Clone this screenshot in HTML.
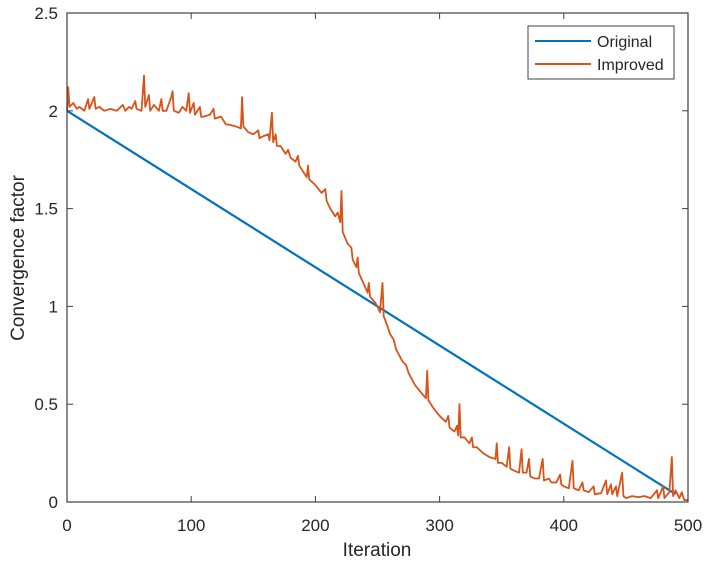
<!DOCTYPE html>
<html><head><meta charset="utf-8"><style>
html,body{margin:0;padding:0;background:#fff;}
svg{display:block;font-family:"Liberation Sans",Arial,sans-serif;}
</style></head><body>
<svg id="chart" width="710" height="563" viewBox="0 0 710 563">
<rect x="0" y="0" width="710" height="563" fill="#fff"/>
<g id="plot"></g>
</svg>
<script>
const xTicks=[0,100,200,300,400,500];
const yTicks=[0,0.5,1,1.5,2,2.5];
const yTickLabels=["0","0.5","1","1.5","2","2.5"];
const origIter=[0,490];
const origVal=[2.0,0.04];
const impIter=[0,1,2,5,8,10,14,17,18,22,23,26,30,35,40,45,47,50,52,55,56,60,62,63,66,67,70,74,76,77,80,84,85,86,90,93,96,98,99,102,103,107,108,110,115,118,119,124,128,130,136,140,141,142,146,150,154,155,158,162,163,165,166,168,169,172,176,178,180,184,186,187,190,193,194,195,200,205,208,209,212,216,218,220,221,222,226,229,230,233,234,235,240,242,243,244,248,250,252,254,255,258,260,263,265,270,273,275,280,285,289,290,291,295,300,305,307,308,312,314,315,316,317,320,324,326,327,330,335,340,345,346,347,350,354,356,357,360,364,366,367,370,372,373,377,380,383,384,388,390,394,397,398,400,404,407,408,412,415,416,420,424,425,430,434,435,438,439,442,443,447,448,450,455,460,465,470,475,476,480,481,485,487,488,490,493,495,497,500];
const impVal=[2.0,2.12,2.02,2.04,2.01,2.02,2.0,2.06,2.01,2.07,2.01,2.02,2.0,2.01,2.0,2.03,2.0,2.02,2.01,2.05,2.01,2.0,2.18,2.02,2.08,2.0,2.03,2.0,2.06,2.0,2.0,2.07,2.1,2.0,1.99,2.02,2.0,2.09,1.99,2.04,1.98,2.02,1.97,1.97,1.98,2.01,1.96,1.97,1.93,1.93,1.92,1.91,2.07,1.92,1.89,1.88,1.9,1.86,1.87,1.88,1.85,1.99,1.84,1.88,1.82,1.82,1.78,1.8,1.76,1.74,1.77,1.72,1.69,1.66,1.72,1.65,1.62,1.58,1.6,1.54,1.5,1.46,1.48,1.43,1.59,1.38,1.32,1.3,1.24,1.2,1.25,1.17,1.1,1.07,1.12,1.05,1.02,1.0,0.97,1.12,0.95,0.9,0.86,0.83,0.78,0.72,0.7,0.66,0.6,0.56,0.53,0.67,0.52,0.48,0.44,0.41,0.44,0.38,0.36,0.39,0.34,0.5,0.33,0.33,0.3,0.33,0.28,0.28,0.25,0.23,0.22,0.3,0.2,0.2,0.18,0.28,0.17,0.16,0.15,0.27,0.15,0.15,0.22,0.13,0.12,0.12,0.22,0.11,0.12,0.1,0.1,0.14,0.09,0.08,0.07,0.21,0.07,0.06,0.1,0.06,0.05,0.08,0.04,0.045,0.11,0.04,0.09,0.04,0.08,0.03,0.15,0.03,0.02,0.03,0.025,0.03,0.02,0.06,0.02,0.08,0.02,0.05,0.23,0.03,0.06,0.02,0.05,0.01,0.01];

const L=67,R=688,T=13,B=502;
const NS="http://www.w3.org/2000/svg";
const xS=v=>L+(v-0)/(500-0)*(R-L);
const yS=v=>B-(v-0)/(2.5-0)*(B-T);
const g=document.getElementById('plot');
function mk(tag,attrs){const e=document.createElementNS(NS,tag);for(const k in attrs)e.setAttribute(k,attrs[k]);return e;}

function pathFrom(xs,ys){return xs.map((x,i)=>(i?'L':'M')+xS(x).toFixed(2)+' '+yS(ys[i]).toFixed(2)).join(' ');}
const orig=mk('path',{d:pathFrom(origIter,origVal),fill:'none',stroke:'#0072bd','stroke-width':2.2});


g.appendChild(orig);
const imp=mk('path',{d:pathFrom(impIter,impVal),fill:'none',stroke:'#d95319','stroke-width':1.8,'stroke-linejoin':'round'});


g.appendChild(imp);

const box=mk('rect',{x:L,y:T,width:R-L,height:B-T,fill:'none',stroke:'#404040','stroke-width':1.2});


g.appendChild(box);

xTicks.forEach(t=>{
  const x=xS(t);
  const tb=mk('line',{x1:x,x2:x,y1:B,y2:B-6,stroke:'#404040','stroke-width':1});
  
  
  g.appendChild(tb);
  const tt=mk('line',{x1:x,x2:x,y1:T,y2:T+6,stroke:'#404040','stroke-width':1});
  
  
  g.appendChild(tt);
  const lb=mk('text',{x:x,y:B+29,'text-anchor':'middle','font-size':17,fill:'#262626'});
  lb.textContent=String(t);
  
  
  g.appendChild(lb);
});
yTicks.forEach((t,i)=>{
  const y=yS(t);
  const tl=mk('line',{x1:L,x2:L+6,y1:y,y2:y,stroke:'#404040','stroke-width':1});
  
  
  g.appendChild(tl);
  const tr=mk('line',{x1:R,x2:R-6,y1:y,y2:y,stroke:'#404040','stroke-width':1});
  
  
  g.appendChild(tr);
  const lb=mk('text',{x:L-9,y:y+6,'text-anchor':'end','font-size':17,fill:'#262626'});
  lb.textContent=yTickLabels[i];
  
  
  g.appendChild(lb);
});
</script>
<script>
(function(){
const s=document.getElementById('chart');
const NS="http://www.w3.org/2000/svg";
const xt=document.createElementNS(NS,'text');
xt.setAttribute('x',377);xt.setAttribute('y',556);xt.setAttribute('text-anchor','middle');xt.setAttribute('font-size',19);xt.setAttribute('fill','#262626');
xt.textContent='Iteration';


s.appendChild(xt);
const yt=document.createElementNS(NS,'text');
yt.setAttribute('transform','translate(24,258) rotate(-90)');yt.setAttribute('text-anchor','middle');yt.setAttribute('font-size',19);yt.setAttribute('fill','#262626');
yt.textContent='Convergence factor';


s.appendChild(yt);
const lg=document.createElementNS(NS,'g');


lg.innerHTML='<rect x="528" y="26" width="146" height="53" fill="#fff" stroke="#404040" stroke-width="1"/>'+
'<line x1="535" x2="591" y1="41" y2="41" stroke="#0072bd" stroke-width="2"/>'+
'<text x="597" y="47" font-size="16" fill="#262626">Original</text>'+
'<line x1="535" x2="591" y1="64" y2="64" stroke="#d95319" stroke-width="2"/>'+
'<text x="597" y="70" font-size="16" fill="#262626">Improved</text>';
s.appendChild(lg);
})();
</script>
</body></html>
